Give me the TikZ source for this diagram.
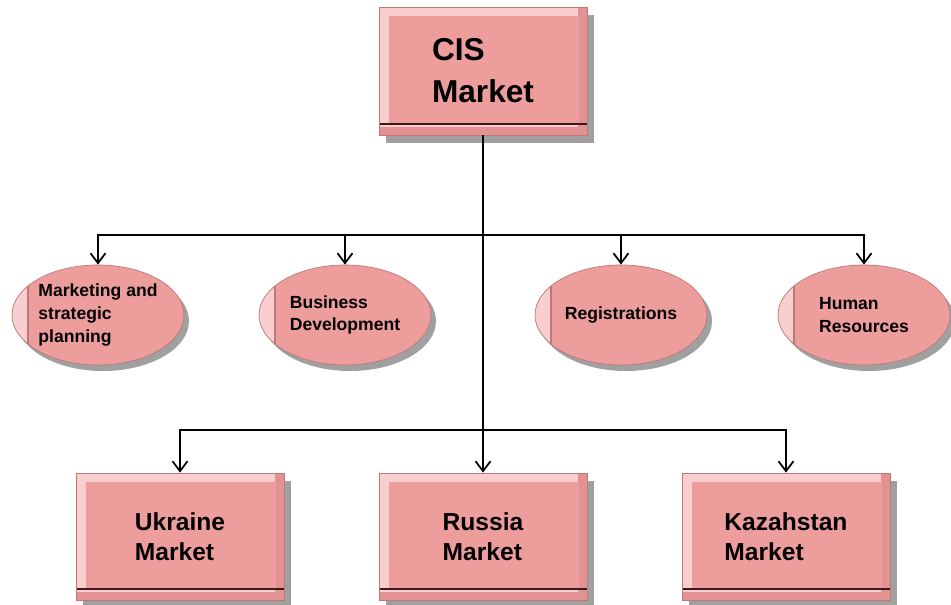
\documentclass[tikz,border=0pt]{standalone}
\usepackage{fontspec}
\setmainfont{Liberation Sans}
\usetikzlibrary{shapes.geometric, arrows.meta, shadows}
\definecolor{pinkfill}{RGB}{238,157,157}
\definecolor{pinklight}{RGB}{248,206,206}
\definecolor{pinkdark}{RGB}{226,146,146}
\definecolor{pinkedge}{RGB}{190,120,120}
\definecolor{shadowgray}{RGB}{160,160,160}
\definecolor{darkline}{RGB}{60,25,25}
\tikzstyle{market} = [rectangle, minimum width=4.16cm, minimum height=2.54cm, align=left, font=\fontsize{14}{17}\selectfont\bfseries, fill=pinklight, draw=pinkedge, drop shadow={shadow xshift=0.14cm, shadow yshift=-0.16cm, fill=shadowgray, opacity=1}, path picture={
  \fill[pinkdark] ([xshift=-0.18cm]path picture bounding box.north east) rectangle (path picture bounding box.south east);
  \fill[pinkdark] (path picture bounding box.south west) rectangle ([yshift=0.16cm]path picture bounding box.south east);
  \fill[pinkfill] ([xshift=0.2cm, yshift=-0.18cm]path picture bounding box.north west) rectangle ([xshift=-0.16cm, yshift=0.22cm]path picture bounding box.south east);
  \draw[line width=1.5pt, darkline] ([yshift=0.22cm]path picture bounding box.south west) -- ([yshift=0.22cm]path picture bounding box.south east);}]
\tikzstyle{unit} = [ellipse, minimum width=3.44cm, minimum height=2cm, inner sep=0pt, align=left, font=\fontsize{10}{13}\selectfont\bfseries, fill=pinkfill, draw=pinkedge, drop shadow={shadow xshift=0.1cm, shadow yshift=-0.12cm, fill=shadowgray, opacity=1}, path picture={
  \fill[pinklight] (path picture bounding box.south west) rectangle ([xshift=0.32cm]path picture bounding box.north west);
  \draw[line width=0.8pt] ([xshift=0.32cm, yshift=0.62cm]path picture bounding box.west) -- ++(0,-1.3);}]
\tikzstyle{arrow} = [->, >={Straight Barb[length=2mm, width=3mm]}, line width=1pt]

\begin{document}
\begin{tikzpicture}[node distance=1cm]
\useasboundingbox (0,0) rectangle (19.02,-12.1);
%总部
\node[market, minimum height=2.56cm, font=\fontsize{18}{24}\selectfont\bfseries](cis) at (9.66,-1.42){CIS\\Market};
\coordinate[below of = cis, yshift=-2.28cm](bus1);
\coordinate[below of = cis, yshift=-6.18cm](bus2);
%职能部门
\node[unit, below of = cis, xshift=-7.7cm, yshift=-3.88cm](mk){Marketing and\\strategic\\planning};
\node[unit, below of = cis, xshift=-2.76cm, yshift=-3.88cm](bd){Business\\Development};
\node[unit, below of = cis, xshift=2.76cm, yshift=-3.88cm](reg){Registrations};
\node[unit, below of = cis, xshift=7.62cm, yshift=-3.88cm](hr){Human\\Resources};
%各国市场
\node[market, below of = cis, xshift=-6.06cm, yshift=-8.31cm](ukr){Ukraine\\Market};
\node[market, below of = cis, yshift=-8.31cm](rus){Russia\\Market};
\node[market, below of = cis, xshift=6.06cm, yshift=-8.31cm](kaz){Kazahstan\\Market};
%连线
\draw [arrow] (cis) -- (rus);
\draw [arrow] (bus1) -| (mk);
\draw [arrow] (bus1) -| (bd);
\draw [arrow] (bus1) -| (reg);
\draw [arrow] (bus1) -| (hr);
\draw [arrow] (bus2) -| (ukr);
\draw [arrow] (bus2) -| (kaz);
\end{tikzpicture}
\end{document}
